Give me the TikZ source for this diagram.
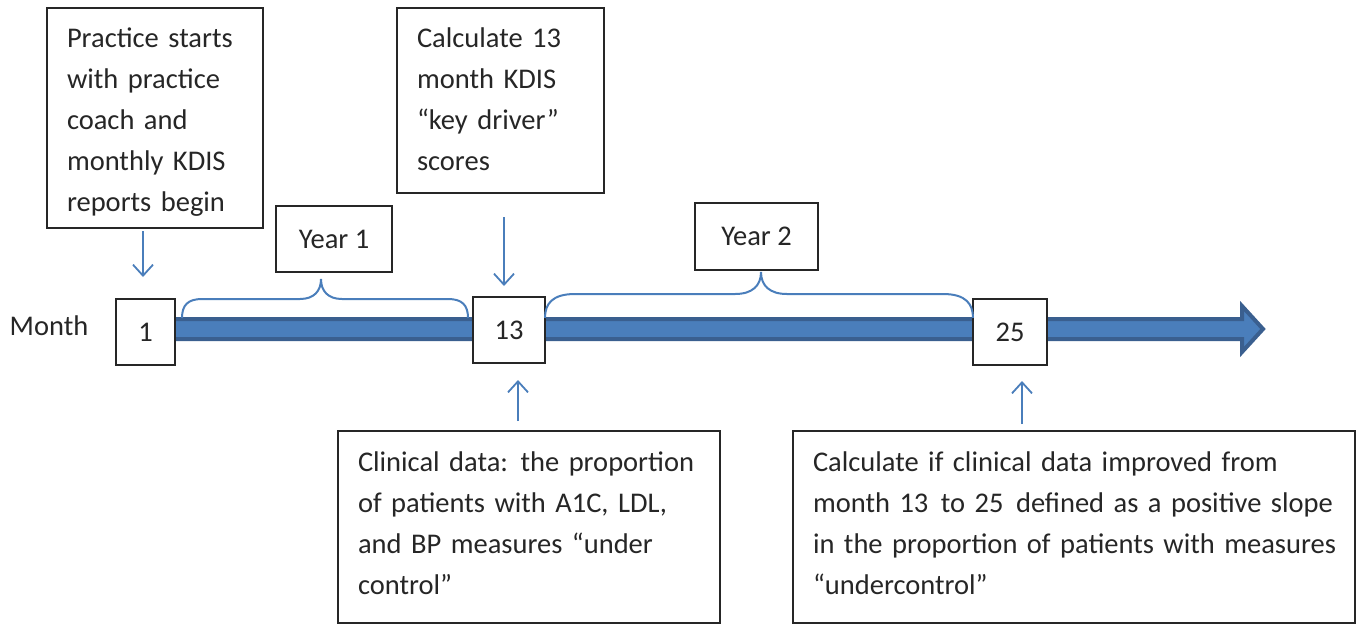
\documentclass[tikz,border=0pt]{standalone}
\usepackage{fontspec}
\setmainfont{Carlito}
\usetikzlibrary{arrows.meta,calc}
\definecolor{lblue}{HTML}{4A7EBB}
\definecolor{dblue}{HTML}{3A5F8F}
\definecolor{ink}{HTML}{262626}
\newcommand{\tline}[1]{\mbox{\strut#1}}
\newcommand{\padd}[1]{\rule[-#1pt]{0pt}{#1pt}}
\newcommand{\tpad}[1]{\rule{0pt}{#1pt}}
\newcommand{\dsp}{\ \hspace{3pt}}
\begin{document}
\begin{tikzpicture}[x=1pt,y=-1pt,
  txt/.style={font=\fontsize{28.5}{41}\selectfont, text=ink},
  tbox/.style={txt, draw=ink, line width=2pt, fill=white, inner xsep=20pt, inner ysep=0pt, align=left},
  nbox/.style={txt, draw=ink, line width=2pt, fill=white, inner sep=0pt, align=center},
  arr/.style={draw=lblue, line width=1.8pt, -{Straight Barb[length=11pt,width=20pt]}},
  brace/.style={draw=lblue, line width=2pt}]
\useasboundingbox (0,0) rectangle (1361,625);

% timeline bar
\coordinate (tip) at (1263,329);
\filldraw[fill=lblue, draw=dblue, line width=4pt, line join=miter]
  (150,319) -- (1242,319) -- (1242,306) -- (tip) -- (1242,352) -- (1242,339) -- (150,339) -- cycle;

% top boxes
\node[tbox, text width=176pt, minimum height=220pt] (boxA) at (155,118)
  {\tline{\tpad{34.7}Practice starts}\\\tline{with practice}\\\tline{coach and}\\\tline{monthly KDIS}\\\tline{reports begin}};
\node[tbox, text width=167pt, minimum height=185pt] (boxB) at (500.5,100.5)
  {\tline{Calculate 13}\\\tline{month KDIS}\\\tline{“key driver”}\\\tline{scores}\padd{11}};

% year boxes
\node[nbox, minimum width=116pt, minimum height=66pt] (y1) at (334,239) {Year 1};
\node[nbox, minimum width=123pt, minimum height=67pt] (y2) at (756.5,236.5) {Year 2};

% month label and boxes
\node[txt] (month) at (49,326) {Month};
\node[nbox, minimum width=59pt, minimum height=66pt] (m1) at (145.5,332) {1};
\node[nbox, minimum width=72pt, minimum height=66pt] (m13) at (509,330) {13};
\node[nbox, minimum width=74pt, minimum height=66pt] (m25) at (1010,332) {25};

% bottom boxes
\node[tbox, text width=342pt, minimum height=192pt] (clin) at (529,527)
  {\tline{Clinical data:\dsp the proportion}\\\tline{of patients with A1C, LDL,}\\\tline{and BP measures “under}\\\tline{control”}\padd{16}};
\node[tbox, text width=522pt, minimum height=192pt] (calc) at (1074,527)
  {\tline{Calculate if clinical data improved from}\\\tline{month 13\dsp to 25\dsp defined as a positive slope}\\\tline{in the proportion of patients with measures}\\\tline{“undercontrol”}\padd{16}};

% braces
\draw[brace] (182,318) .. controls (182,305) and (188,299) .. (202,299) -- (300,299)
  .. controls (314,299) and (321,291) .. (321,279)
  .. controls (321,291) and (328,299) .. (342,299) -- (448,299)
  .. controls (462,299) and (468,305) .. (468,318);
\draw[brace] (545,318) .. controls (545,304) and (552,294) .. (575,294) -- (735,294)
  .. controls (752,294) and (761,286) .. (761,272)
  .. controls (761,286) and (770,294) .. (787,294) -- (943,294)
  .. controls (966,294) and (973,304) .. (973,318);

% arrows
\draw[arr] ($(boxA.south -| m1.north)+(-2.5,2)$) -- ($(m1.north)+(-2.5,-21)$);
\draw[arr] ($(m13.north)+(-5,-79)$) -- ($(m13.north)+(-5,-10)$);
\draw[arr] ($(clin.north -| m13.south)+(9,-9)$) -- ($(m13.south)+(9,16)$);
\draw[arr] ($(calc.north -| m25.south)+(12,-6)$) -- ($(m25.south)+(12,15)$);
\end{tikzpicture}
\end{document}
